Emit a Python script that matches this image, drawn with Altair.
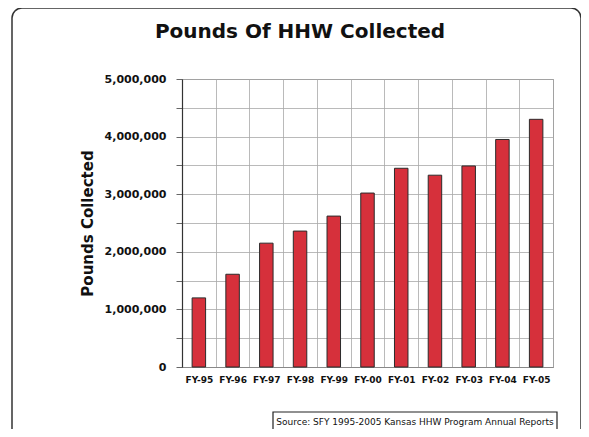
import altair as alt
import pandas as pd

categories = ["FY-95", "FY-96", "FY-97", "FY-98", "FY-99", "FY-00",
              "FY-01", "FY-02", "FY-03", "FY-04", "FY-05"]
pounds = [1200000, 1610000, 2150000, 2360000, 2620000, 3020000,
          3450000, 3330000, 3490000, 3950000, 4300000]
y_ticks = [0, 500000, 1000000, 1500000, 2000000, 2500000, 3000000,
           3500000, 4000000, 4500000, 5000000]
title_text = "Pounds Of HHW Collected"
source_text = "Source: SFY 1995-2005 Kansas HHW Program Annual Reports"

df = pd.DataFrame({"cat": categories, "val": pounds})
FONT = "DejaVu Sans"

bars = alt.Chart(df).mark_bar(
    width=alt.RelativeBandSize(0.4),
    color="#d6303b",
    stroke="#2b2b2b",
    strokeWidth=1,
).encode(
    x=alt.X("cat:N", sort=categories,
            scale=alt.Scale(paddingInner=0, paddingOuter=0),
            axis=alt.Axis(title=None, labelAngle=0, labelFont=FONT,
                          labelFontWeight="bold", labelFontSize=9,
                          labelColor="#111", labelPadding=8,
                          ticks=False, grid=True, tickBand="extent",
                          gridColor="#a8a8a8", gridWidth=0.8,
                          domainColor="#888")),
    y=alt.Y("val:Q", scale=alt.Scale(domain=[0, 5000000], nice=False),
            axis=alt.Axis(title="Pounds Collected", values=y_ticks,
                          labelExpr="datum.value % 1000000 == 0 ? format(datum.value, ',') : ''",
                          labelFont=FONT, labelFontWeight="bold",
                          labelFontSize=11, labelColor="#111",
                          labelPadding=10, tickSize=6, tickColor="#666",
                          titleFont=FONT, titleFontWeight="bold",
                          titleFontSize=15, titleColor="#111",
                          titlePadding=9, grid=True,
                          gridColor="#a8a8a8", gridWidth=0.8,
                          domainColor="#333", domainWidth=1.2)),
)

frame = alt.Chart(pd.DataFrame({"k": [0]})).mark_rect(
    fillOpacity=0, stroke="#333", strokeWidth=1.5, cornerRadius=10
).encode(x=alt.value(-170), x2=alt.value(399),
         y=alt.value(-71), y2=alt.value(420))

title = alt.Chart(pd.DataFrame({"t": [title_text]})).mark_text(
    font=FONT, fontWeight="bold", fontSize=20, color="#111",
    align="center", baseline="middle"
).encode(x=alt.value(118), y=alt.value(-47), text="t:N")

src_box = alt.Chart(pd.DataFrame({"k": [0]})).mark_rect(
    fillOpacity=0, stroke="#222", strokeWidth=1.2
).encode(x=alt.value(91), x2=alt.value(375),
         y=alt.value(333), y2=alt.value(352))

src = alt.Chart(pd.DataFrame({"t": [source_text]})).mark_text(
    font=FONT, fontSize=9, color="#111", align="center", baseline="middle"
).encode(x=alt.value(233), y=alt.value(343), text="t:N")

chart = alt.layer(frame, bars, title, src_box, src).properties(
    width=371, height=288,
    autosize=alt.AutoSizeParams(type="none"),
    padding={"left": 174, "top": 71, "right": 28, "bottom": 62},
    background="white",
).configure_view(stroke="#888", strokeWidth=1)

chart.save("out.html", embed_options={"renderer": "svg", "actions": False})
